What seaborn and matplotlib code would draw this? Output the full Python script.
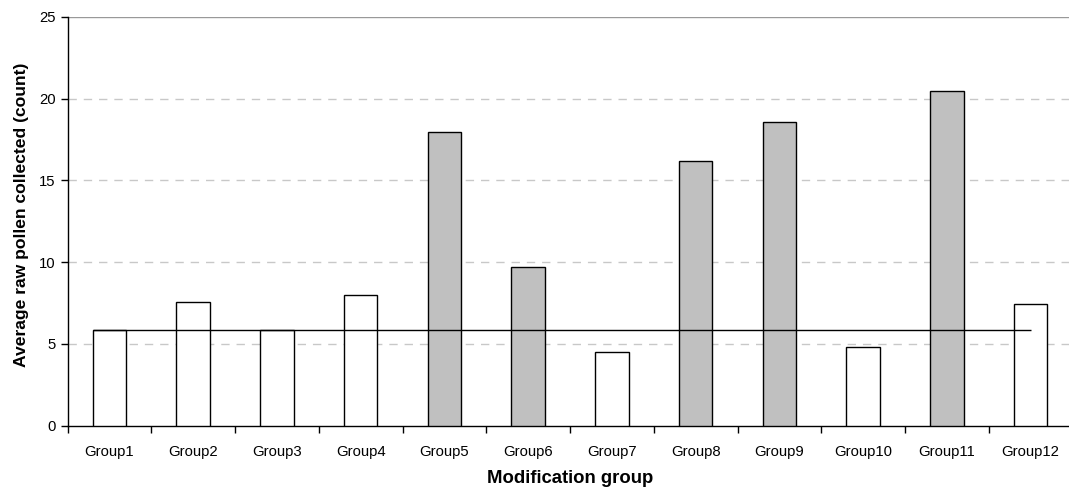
import matplotlib
matplotlib.use("Agg")
import matplotlib.pyplot as plt
import seaborn as sns
import numpy as np
import pandas as pd
from matplotlib.ticker import FixedLocator

groups = ["Group1", "Group2", "Group3", "Group4", "Group5", "Group6",
          "Group7", "Group8", "Group9", "Group10", "Group11", "Group12"]
values = [5.85, 7.57, 5.85, 8.0, 17.95, 9.71, 4.49, 16.18, 18.55, 4.84, 20.47, 7.44]
modified = [False, False, False, False, True, True, False, True, True, False, True, False]
baseline = 5.85
yticks = [0, 5, 10, 15, 20, 25]

sns.set_theme(style="white")
plt.rcParams['font.family'] = ['Liberation Sans', 'DejaVu Sans']
plt.rcParams['text.color'] = 'black'
plt.rcParams['axes.labelcolor'] = 'black'

df = pd.DataFrame({"group": groups, "value": values,
                   "kind": ["mod" if m else "ctl" for m in modified]})

fig = plt.figure(figsize=(10.69, 4.90), dpi=100)
ax = fig.add_axes([67.5/1069, 1 - 425.7/490, 1005/1069, (425.7 - 17)/490])

sns.barplot(data=df, x="group", y="value", hue="kind",
            palette={"mod": "#C0C0C0", "ctl": "#FFFFFF"},
            edgecolor="black", linewidth=1.0, width=0.4, dodge=False,
            legend=False, ax=ax, zorder=3)

ax.hlines(baseline, -0.2, len(groups) - 1, colors="black", linewidth=1.0, zorder=4)

ax.set_xlim(-0.5, len(groups) - 0.5)
ax.set_ylim(0, 25)
ax.set_yticks(yticks)
for y in yticks[1:-1]:
    ax.axhline(y, color="#C8C8C8", linestyle=(0, (6, 5)), linewidth=1.0, zorder=1)
ax.axhline(25, color="#999999", linewidth=1.0, zorder=1)

ax.xaxis.set_minor_locator(FixedLocator(np.arange(-0.5, len(groups), 1.0)))
ax.tick_params(axis="x", which="major", length=0, labelsize=10.7, pad=14, colors="black")
ax.tick_params(axis="x", which="minor", length=5, width=1, direction="out", color="black", bottom=True)
ax.tick_params(axis="y", length=5, width=1, direction="out", labelsize=10.7, colors="black", left=True)

for s in ["top", "right"]:
    ax.spines[s].set_visible(False)
for s in ["left", "bottom"]:
    ax.spines[s].set_color("black")
    ax.spines[s].set_linewidth(1.0)

ax.set_xlabel("Modification group", fontsize=13.3, fontweight="bold", color="black")
ax.set_ylabel("Average raw pollen collected (count)", fontsize=12.6, fontweight="bold", color="black")
ax.yaxis.set_label_coords(-0.038, 0.517)
ax.xaxis.set_label_coords(0.5, -0.108)

fig.savefig("out.png", dpi=100)
